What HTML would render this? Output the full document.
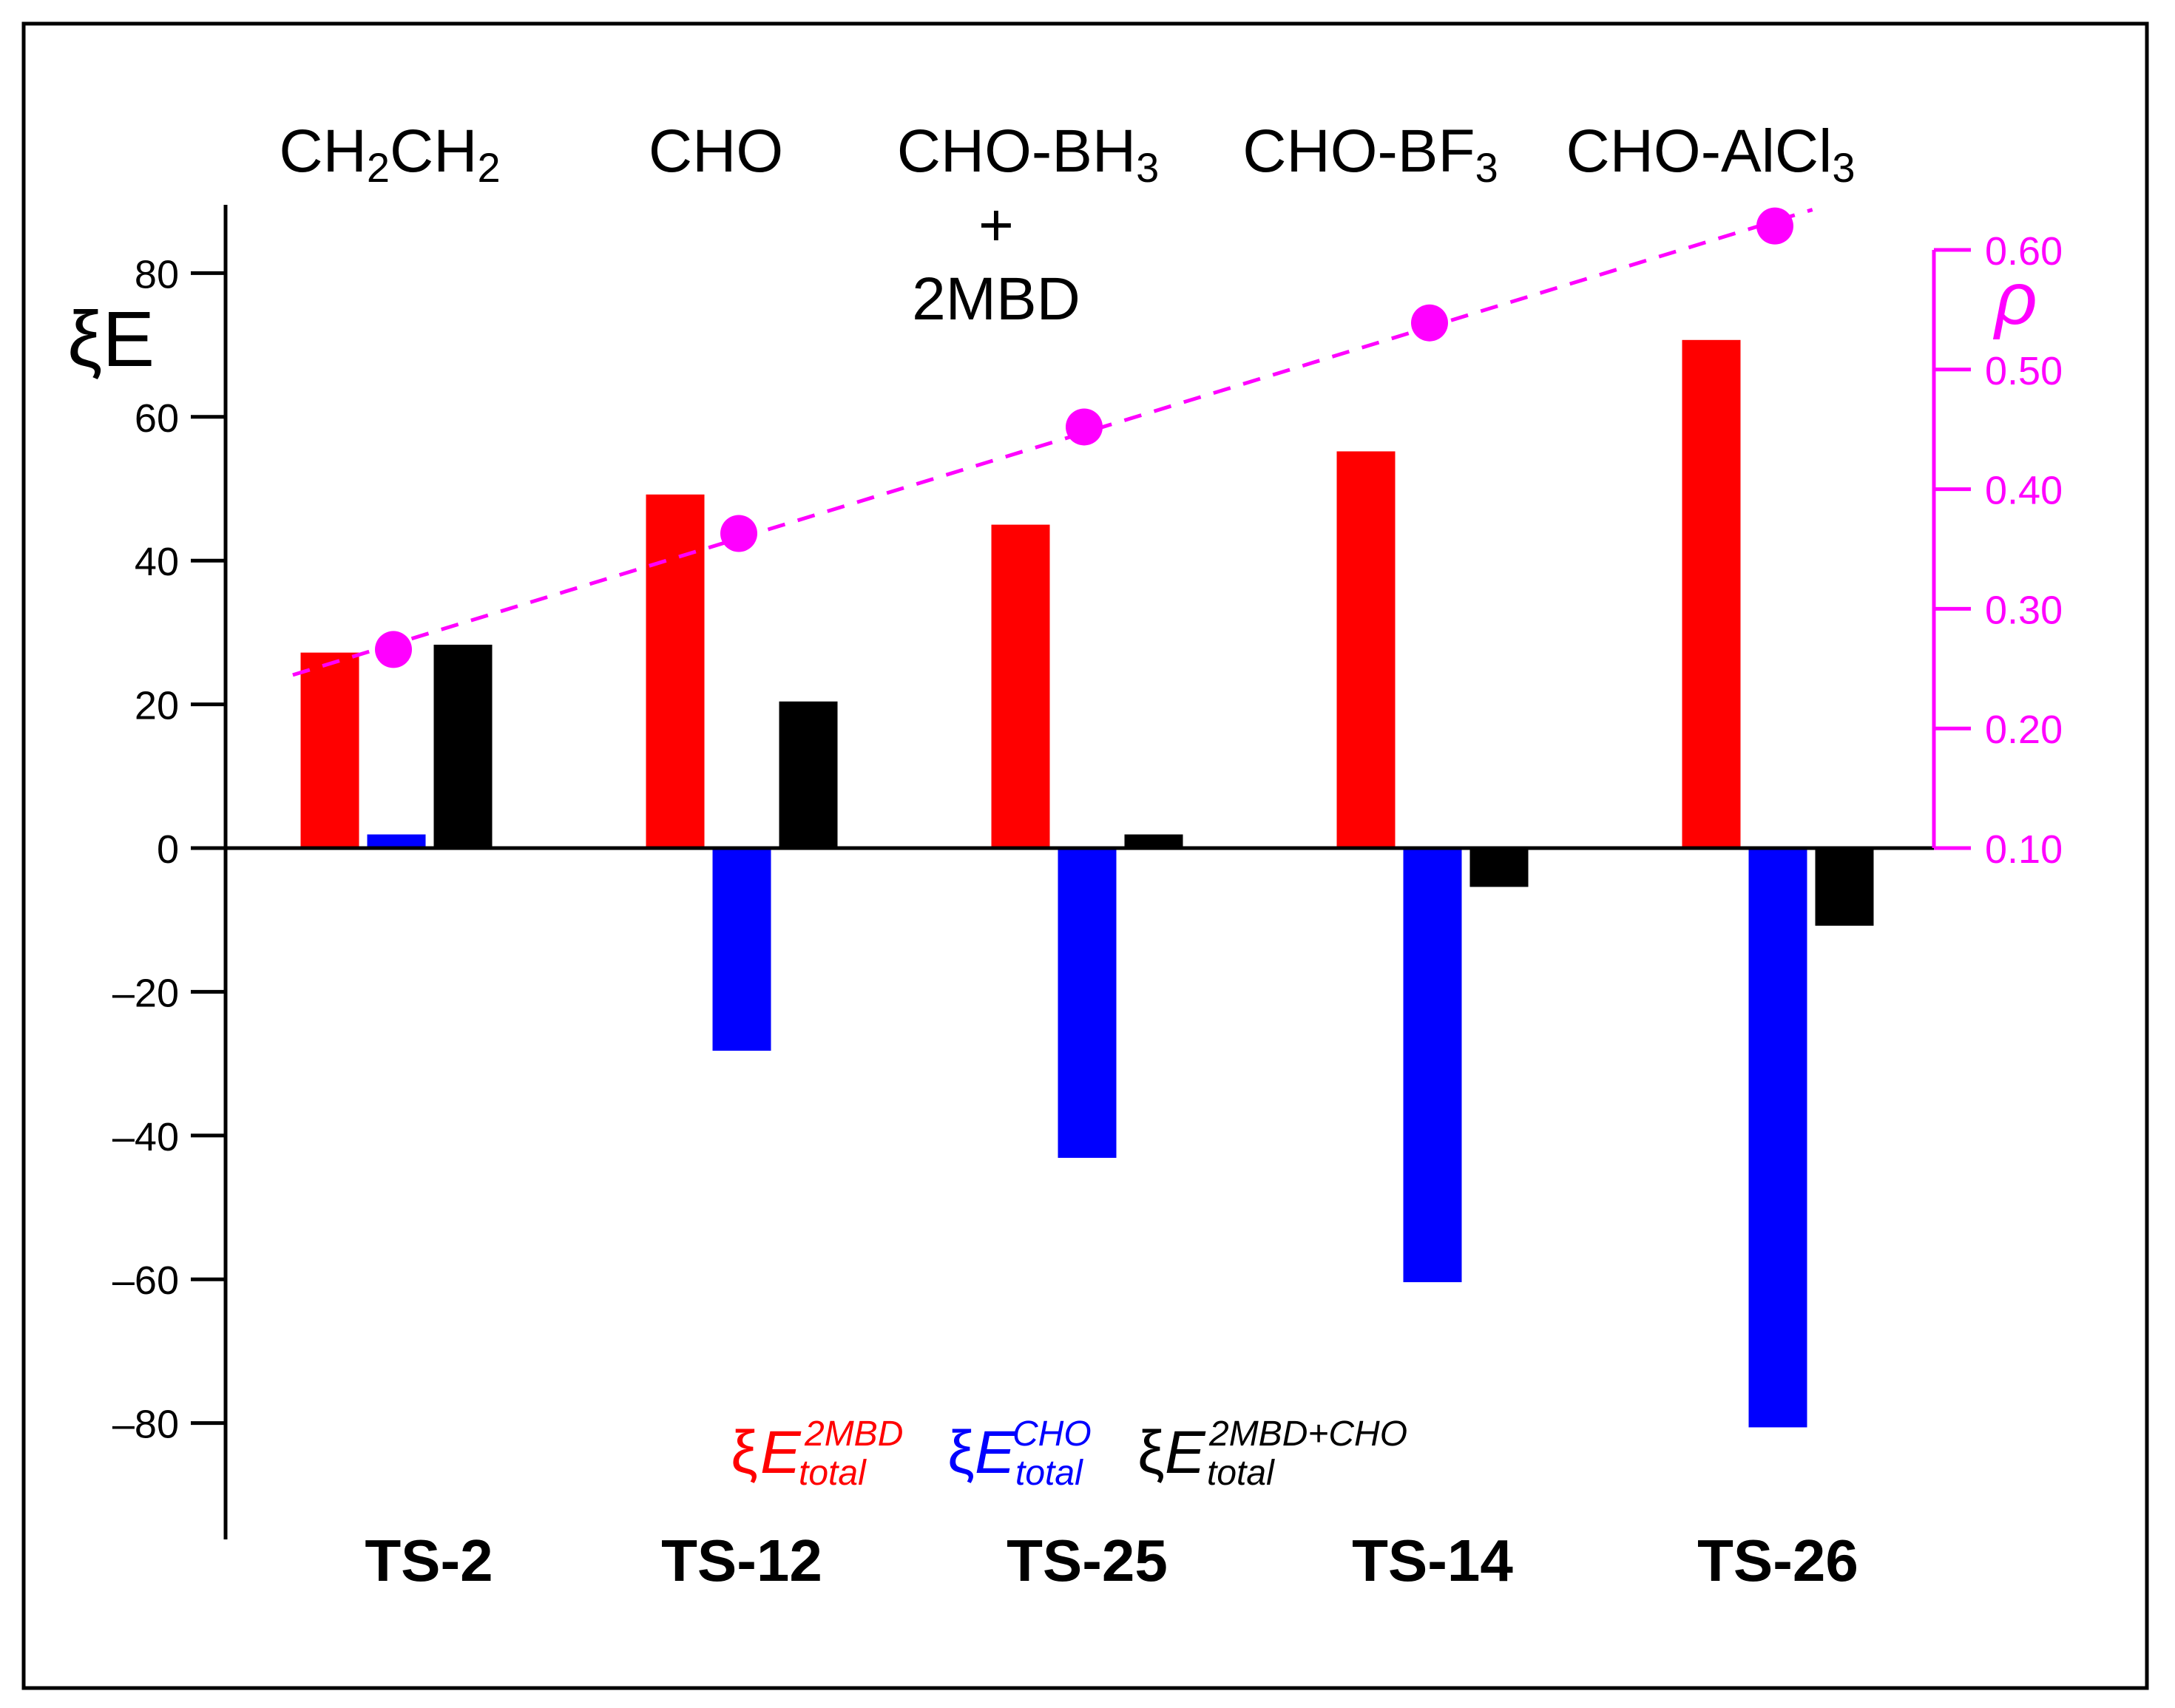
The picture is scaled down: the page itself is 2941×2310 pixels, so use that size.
<!DOCTYPE html>
<html><head><meta charset="utf-8"><style>
html,body{margin:0;padding:0;background:#fff}
svg{display:block}
text{font-family:"Liberation Sans",sans-serif}
</style></head><body>
<svg id="chart" width="2941" height="2310" viewBox="0 0 2941 2310" xmlns="http://www.w3.org/2000/svg">
<rect x="32" y="32" width="2871" height="2251" fill="none" stroke="#000" stroke-width="5"/>
<g id="bars"></g>
<g id="axes"></g>
<g id="rho"></g>
<text x="150" y="495" font-size="106" text-anchor="middle">ξE</text>
<text x="2726" y="438" font-size="100" font-style="italic" fill="#f0f" font-family="Liberation Serif" text-anchor="middle">ρ</text>
<g font-size="82" text-anchor="middle">
<text x="527" y="232">CH<tspan font-size="56" dy="14">2</tspan><tspan dy="-14">CH</tspan><tspan font-size="56" dy="14">2</tspan></text>
<text x="968" y="232">CHO</text>
<text x="1390" y="232">CHO-BH<tspan font-size="56" dy="14">3</tspan></text>
<text x="1347" y="332">+</text>
<text x="1347" y="432">2MBD</text>
<text x="1853" y="232">CHO-BF<tspan font-size="56" dy="14">3</tspan></text>
<text x="2313" y="232">CHO-AlCl<tspan font-size="56" dy="14">3</tspan></text>
</g>
<g id="cats" font-size="80" font-weight="bold" text-anchor="middle"></g>
<g font-style="italic">
<g fill="#f00">
<text x="988" y="1992" font-size="82" font-style="normal">ξ</text><text x="1028" y="1992" font-size="82">E</text>
<text x="1088" y="1955" font-size="48">2MBD</text><text x="1080" y="2008" font-size="48">total</text></g>
<g fill="#00f">
<text x="1281" y="1992" font-size="82" font-style="normal">ξ</text><text x="1318" y="1992" font-size="82">E</text>
<text x="1369" y="1955" font-size="48">CHO</text><text x="1373" y="2008" font-size="48">total</text></g>
<g fill="#000">
<text x="1538" y="1992" font-size="82" font-style="normal">ξ</text><text x="1575" y="1992" font-size="82">E</text>
<text x="1635" y="1955" font-size="48">2MBD+CHO</text><text x="1632" y="2008" font-size="48">total</text></g>
</g>
</svg>
<script>
const categories = ["TS-2","TS-12","TS-25","TS-14","TS-26"];
const e2mbd = [27.2, 49.2, 45.0, 55.2, 70.7];
const eCho = [1.9, -28.2, -43.1, -60.4, -80.6];
const eTotal = [28.3, 20.4, 1.9, -5.4, -10.8];
const rhoVals = [0.266, 0.363, 0.452, 0.539, 0.620];
const yTicks = [80, 60, 40, 20, 0, -20, -40, -60, -80];
const yTickLabels = ["80","60","40","20","0","\u201320","\u201340","\u201360","\u201380"];
const rTicks = [0.6, 0.5, 0.4, 0.3, 0.2, 0.1];
const rTickLabels = ["0.60","0.50","0.40","0.30","0.20","0.10"];

const NS = "http://www.w3.org/2000/svg";
const y = v => 1147 - v * 9.72;
const yr = v => 1147 - (v - 0.1) * 1618;
const xc = i => 536 + 467 * i;
const BW = 79, OFF = 90;
function mk(tag, attrs, parent) {
  const e = document.createElementNS(NS, tag);
  for (const k in attrs) e.setAttribute(k, attrs[k]);
  parent.appendChild(e); return e;
}
const bars = document.getElementById('bars');
const series = [[e2mbd, '#f00', -OFF, 'bar-2mbd'], [eCho, '#00f', 0, 'bar-cho'], [eTotal, '#000', OFF, 'bar-total']];
series.forEach(([vals, col, off, nm]) => {
  vals.forEach((v, i) => {
    const top = Math.min(y(v), y(0)), h = Math.abs(y(v) - y(0));
    const r = mk('rect', {x: xc(i) + off - BW / 2, y: top, width: BW, height: Math.max(h, 1), fill: col}, bars);
    
    
  });
});
const axes = document.getElementById('axes');
let l = mk('line', {x1: 305, y1: 277, x2: 305, y2: 2082, stroke: '#000', 'stroke-width': 5}, axes);


l = mk('line', {x1: 258, y1: y(0), x2: 2615, y2: y(0), stroke: '#000', 'stroke-width': 5}, axes);


yTicks.forEach((t, i) => {
  const tk = mk('line', {x1: 258, y1: y(t), x2: 305, y2: y(t), stroke: '#000', 'stroke-width': 5}, axes);
  
  
  const tx = mk('text', {x: 242, y: y(t) + 20, 'font-size': 54, 'text-anchor': 'end'}, axes);
  tx.textContent = yTickLabels[i];
  
  
});
l = mk('line', {x1: 2615, y1: yr(0.6), x2: 2615, y2: yr(0.1), stroke: '#f0f', 'stroke-width': 5}, axes);


rTicks.forEach((t, i) => {
  const tk = mk('line', {x1: 2615, y1: yr(t), x2: 2665, y2: yr(t), stroke: '#f0f', 'stroke-width': 5}, axes);
  
  
  const tx = mk('text', {x: 2684, y: yr(t) + 20, 'font-size': 54, fill: '#f0f'}, axes);
  tx.textContent = rTickLabels[i];
  
  
});
const cats = document.getElementById('cats');
categories.forEach((c, i) => {
  const t = mk('text', {x: xc(i) + 44 * (i === 0 ? 1 : 0), y: 2138}, cats);
  t.textContent = c;
  
  
});
const rho = document.getElementById('rho');
const n = rhoVals.length, mi = (n - 1) / 2;
const mr = rhoVals.reduce((a, b) => a + b, 0) / n;
let sxy = 0, sxx = 0;
rhoVals.forEach((r, i) => { sxy += (i - mi) * (r - mr); sxx += (i - mi) * (i - mi); });
const slope = sxy / sxx;
const f = i => mr + slope * (i - mi);
const tl = mk('line', {x1: xc(-0.3), y1: yr(f(-0.3)), x2: xc(4.1), y2: yr(f(4.1)), stroke: '#f0f', 'stroke-width': 5, 'stroke-dasharray': '24 18'}, rho);


rhoVals.forEach((r, i) => {
  const c = mk('circle', {cx: xc(i) - 4, cy: yr(r), r: 25, fill: '#f0f'}, rho);
  
  
});
</script>
</body></html>
